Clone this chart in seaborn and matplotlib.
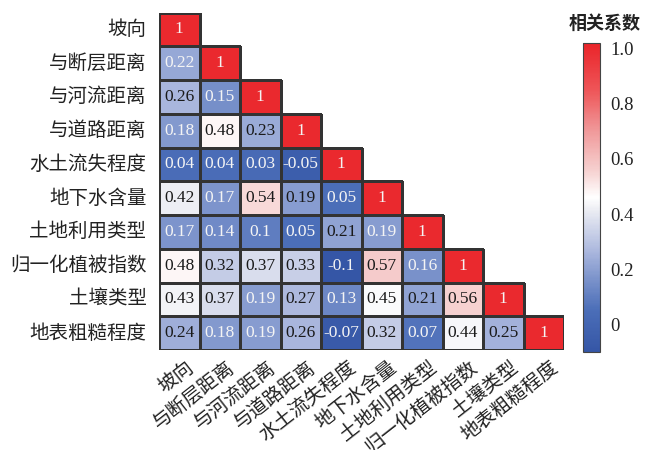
import numpy as np
import pandas as pd
import seaborn as sns
import matplotlib
matplotlib.use("Agg")
import matplotlib.pyplot as plt
import matplotlib.transforms as mtransforms
from matplotlib.colors import LinearSegmentedColormap, to_rgba

# ---- data ----
labels = ["坡向", "与断层距离", "与河流距离", "与道路距离", "水土流失程度",
          "地下水含量", "土地利用类型", "归一化植被指数", "土壤类型", "地表粗糙程度"]
row_slope = [1]
row_fault = [0.22, 1]
row_river = [0.26, 0.15, 1]
row_road = [0.18, 0.48, 0.23, 1]
row_erosion = [0.04, 0.04, 0.03, -0.05, 1]
row_ground = [0.42, 0.17, 0.54, 0.19, 0.05, 1]
row_landuse = [0.17, 0.14, 0.1, 0.05, 0.21, 0.19, 1]
row_ndvi = [0.48, 0.32, 0.37, 0.33, -0.1, 0.57, 0.16, 1]
row_soil = [0.43, 0.37, 0.19, 0.27, 0.13, 0.45, 0.21, 0.56, 1]
row_rough = [0.24, 0.18, 0.19, 0.26, -0.07, 0.32, 0.07, 0.44, 0.25, 1]
rows = [row_slope, row_fault, row_river, row_road, row_erosion,
        row_ground, row_landuse, row_ndvi, row_soil, row_rough]
cbar_ticks = [0, 0.2, 0.4, 0.6, 0.8, 1.0]
cbar_ticklabels = ["0", "0.2", "0.4", "0.6", "0.8", "1.0"]
cbar_title = "相关系数"

n = len(labels)
mat = np.full((n, n), np.nan)
for i, r in enumerate(rows):
    mat[i, :len(r)] = r
df = pd.DataFrame(mat, index=labels, columns=labels)
mask = np.isnan(mat)

# ---- style ----
sns.set_theme(style="white")
plt.rcParams["font.family"] = ["Noto Sans CJK SC", "DejaVu Sans"]

vmin, vmax = -0.1, 1.02
anchor_vals = [-0.1, 0.05, 0.17, 0.26, 0.35, 0.42, 0.46, 0.56, 0.7, 0.85, 1.02]
anchor_cols = ["#3556A6", "#4B6EB8", "#7E95CC", "#A9B6DD", "#D0D6EA", "#EEEFF4",
               "#FFFFFF", "#F6D0CF", "#F09A9B", "#EE5558", "#EA2429"]
pos = [(v - vmin) / (vmax - vmin) for v in anchor_vals]
cmap = LinearSegmentedColormap.from_list("bwr_custom", list(zip(pos, anchor_cols)))

W, H = 645, 450
fig = plt.figure(figsize=(W / 100, H / 100), dpi=100)
ax = fig.add_axes([159 / W, 1 - 350 / H, 405 / W, 337.5 / H])
cax = fig.add_axes([583 / W, 1 - 352 / H, 16.5 / W, 309 / H])

sns.heatmap(df, mask=mask, cmap=cmap, vmin=vmin, vmax=vmax, annot=False,
            linewidths=0.9, linecolor="#333333", square=False,
            cbar_ax=cax, ax=ax)

# hide edges of masked (upper-triangle) cells
mesh = ax.collections[0]
edge = to_rgba("#333333")
edgecols = np.array([(0, 0, 0, 0) if m else edge for m in mask.ravel()])
mesh.set_edgecolors(edgecols)

# annotations
light_extra = {(1, 0)}
dark_extra = {(5, 3)}
for i in range(n):
    for j in range(n):
        if mask[i, j]:
            continue
        v = mat[i, j]
        light = (v < 0.2 or v > 0.9)
        if (i, j) in light_extra:
            light = True
        if (i, j) in dark_extra:
            light = False
        ax.text(j + 0.5, i + 0.5, f"{v:g}", ha="center", va="center",
                color="#F4F4F4" if light else "#1A1A1A",
                fontsize=12.5, family=["Liberation Serif"])

# ticks
ax.set_yticks(np.arange(n) + 0.5)
ax.set_yticklabels(labels, fontsize=14, rotation=0, va="center", color="#222222")
ax.set_xticks(np.arange(n) + 0.5)
ax.set_xticklabels(labels, fontsize=14, rotation=38, ha="right", va="top",
                   rotation_mode="anchor", color="#222222")
ax.tick_params(axis="y", length=0, pad=9)
ax.tick_params(axis="x", length=0, pad=5)
shift = mtransforms.ScaledTranslation(6 / 100, 0, fig.dpi_scale_trans)
for lab in ax.get_xticklabels():
    lab.set_transform(lab.get_transform() + shift)
ax.set_xlabel("")
ax.set_ylabel("")

# colorbar
cbar = mesh.colorbar
cbar.set_ticks(cbar_ticks)
cbar.set_ticklabels(cbar_ticklabels)
cbar.ax.tick_params(direction="in", left=True, right=True, length=4, width=0.8,
                    color="#333333", labelsize=13.5, pad=8)
for t in cbar.ax.get_yticklabels():
    t.set_family(["Liberation Serif"])
    t.set_color("#222222")
cbar.outline.set_edgecolor("#444444")
cbar.outline.set_linewidth(0.8)

fig.text(605 / W, 1 - 23 / H, cbar_title, ha="center", va="center",
         fontsize=13, fontweight="bold", color="#222222")

fig.savefig("out.png", dpi=100)
